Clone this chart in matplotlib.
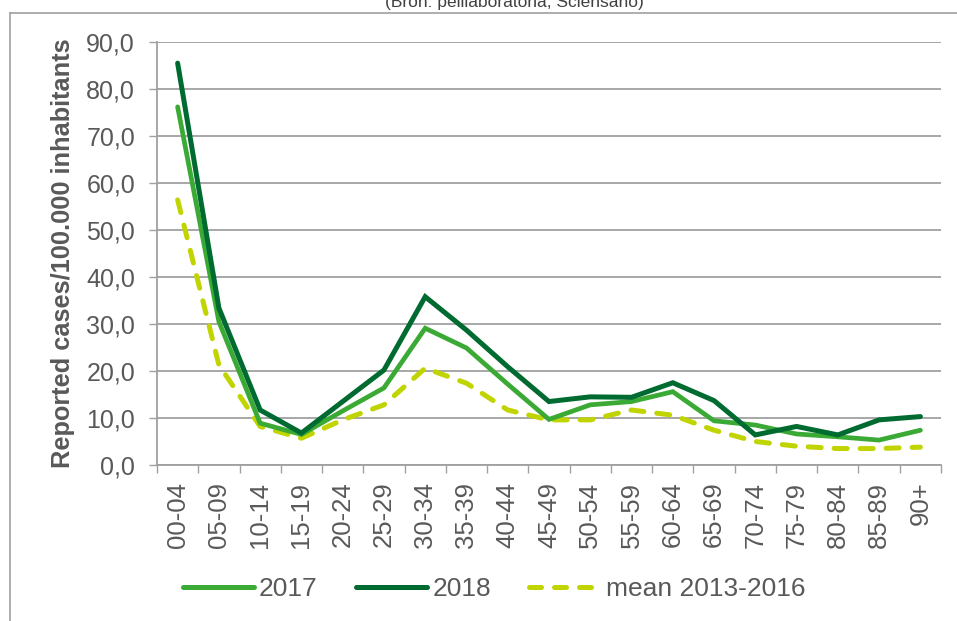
import matplotlib
matplotlib.use("Agg")
import matplotlib.pyplot as plt
from matplotlib.lines import Line2D
import numpy as np

plt.rcParams['font.family'] = ['Liberation Sans', 'DejaVu Sans']

age_groups = ["00-04", "05-09", "10-14", "15-19", "20-24", "25-29", "30-34",
              "35-39", "40-44", "45-49", "50-54", "55-59", "60-64", "65-69",
              "70-74", "75-79", "80-84", "85-89", "90+"]
cases_2017 = [76.2, 30.5, 8.9, 6.5, 11.5, 16.4, 29.1, 24.9, 17.2, 9.7,
              12.8, 13.5, 15.6, 9.4, 8.5, 6.6, 6.0, 5.3, 7.4]
cases_2018 = [85.5, 33.4, 11.7, 6.8, 13.5, 20.2, 35.8, 28.7, 20.9, 13.5,
              14.5, 14.4, 17.5, 13.7, 6.4, 8.2, 6.4, 9.6, 10.3]
mean_2013_2016 = [56.4, 21.3, 8.2, 5.7, 9.6, 12.8, 20.6, 17.4, 11.7, 9.6,
                  9.6, 11.7, 10.6, 7.4, 5.0, 4.0, 3.5, 3.5, 3.8]
y_ticks = [0, 10, 20, 30, 40, 50, 60, 70, 80, 90]

C2017 = '#3aaa35'
C2018 = '#006b30'
CMEAN = '#c0d400'
GRID = '#a0a0a0'
TXT = '#595959'

W, H = 957, 621
fig = plt.figure(figsize=(W / 100, H / 100), dpi=100)
ax = fig.add_axes([157 / W, 1 - 465 / H, (941 - 157) / W, (465 - 42) / H])

x = np.arange(len(age_groups))
ax.plot(x, cases_2017, color=C2017, lw=3.4, solid_capstyle='round', solid_joinstyle='miter', zorder=3)
ax.plot(x, cases_2018, color=C2018, lw=3.6, solid_capstyle='round', solid_joinstyle='miter', zorder=4)
ax.plot(x, mean_2013_2016, color=CMEAN, lw=3.6, dashes=(2.6, 2.6),
        dash_capstyle='round', zorder=2)

ax.set_xlim(-0.5, len(age_groups) - 0.5)
ax.set_ylim(0, 90)
ax.set_yticks(y_ticks)
ax.set_yticklabels([f"{v:.1f}".replace('.', ',') for v in y_ticks])
ax.set_xticks(x)
ax.set_xticklabels(age_groups, rotation=90)
ax.set_xticks(np.arange(-0.5, len(age_groups)), minor=True)

ax.tick_params(axis='x', which='major', length=0, pad=12, labelsize=18.5, labelcolor=TXT)
ax.tick_params(axis='x', which='minor', length=5.5, width=1, color=GRID, direction='out')
ax.tick_params(axis='y', length=5.8, width=1, color=GRID, pad=10, labelsize=18, labelcolor=TXT)

ax.grid(axis='y', color=GRID, lw=1.3)
ax.set_axisbelow(True)
for s in ['top', 'right']:
    ax.spines[s].set_visible(False)
for s in ['left', 'bottom']:
    ax.spines[s].set_color(GRID)
    ax.spines[s].set_linewidth(1.3)

ax.set_ylabel("Reported cases/100.000 inhabitants", fontsize=18.3, fontweight='bold', color=TXT)
ax.yaxis.set_label_coords((75 - 157) / (941 - 157), 0.5)

handles = [
    Line2D([], [], color=C2017, lw=3.6, solid_capstyle='round'),
    Line2D([], [], color=C2018, lw=3.6, solid_capstyle='round'),
    Line2D([], [], color=CMEAN, lw=3.6, dashes=(2.4, 2.6), dash_capstyle='round'),
]
leg = fig.legend(handles, ["2017", "2018", "mean 2013-2016"], loc='center',
                 bbox_to_anchor=(494 / W, 1 - 589 / H), ncol=3, frameon=False,
                 fontsize=19, handlelength=2.7, handletextpad=0.2, columnspacing=1.45,
                 labelcolor=TXT)

fig.text(514 / W, 1 - 7 / H, "(Bron: peillaboratoria, Sciensano)", ha='center',
         va='baseline', fontsize=12.5, color='#404040')

# outer chart-area border (top and left only visible)
fig.add_artist(Line2D([10 / W, 1], [1 - 13 / H, 1 - 13 / H], transform=fig.transFigure,
                      color=GRID, lw=1.2))
fig.add_artist(Line2D([10 / W, 10 / W], [0, 1 - 13 / H], transform=fig.transFigure,
                      color=GRID, lw=1.2))

fig.savefig("out.png", dpi=100)
